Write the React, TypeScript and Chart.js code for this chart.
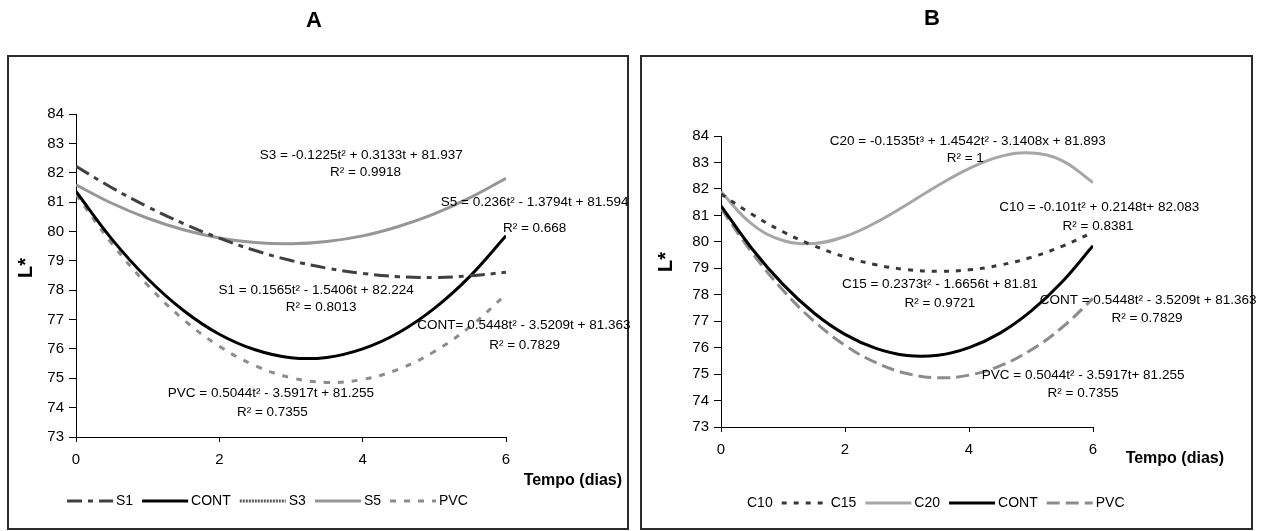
import React, { useEffect, useRef } from "react";
import { Chart, registerables } from "chart.js";

Chart.register(...registerables);

const FONT = '"Liberation Sans", Arial, sans-serif';

// ---- Data ----
const TIME = [0, 0.5, 1, 1.5, 2, 2.5, 3, 3.5, 4, 4.5, 5, 5.5, 6];
const X_TICKS = [0, 2, 4, 6];
const Y_MIN = 73;
const Y_MAX = 84;

const A_S1 = [82.22, 81.49, 80.84, 80.27, 79.77, 79.35, 79.01, 78.75, 78.57, 78.46, 78.43, 78.49, 78.61];
const A_CONT = [81.36, 79.74, 78.39, 77.31, 76.5, 75.97, 75.7, 75.71, 76.0, 76.55, 77.38, 78.48, 79.85];
const A_S3: number[] = [];
const A_S5 = [81.59, 80.96, 80.45, 80.06, 79.78, 79.62, 79.58, 79.66, 79.85, 80.17, 80.6, 81.15, 81.81];
const A_PVC = [81.26, 79.59, 78.17, 77.0, 76.09, 75.43, 75.02, 74.86, 74.96, 75.31, 75.91, 76.76, 77.86];

const B_C10: number[] = [];
const B_C15 = [81.81, 81.04, 80.38, 79.85, 79.43, 79.13, 78.95, 78.89, 78.94, 79.12, 79.41, 79.83, 80.36];
const B_C20 = [81.89, 80.67, 80.05, 79.94, 80.2, 80.73, 81.41, 82.13, 82.77, 83.22, 83.36, 83.07, 82.24];
const B_CONT = [81.36, 79.74, 78.39, 77.31, 76.5, 75.97, 75.7, 75.71, 76.0, 76.55, 77.38, 78.48, 79.85];
const B_PVC = [81.26, 79.59, 78.17, 77.0, 76.09, 75.43, 75.02, 74.86, 74.96, 75.31, 75.91, 76.76, 77.86];

const LABELS_A = ["S1", "CONT", "S3", "S5", "PVC"];
const LABELS_B = ["C10", "C15", "C20", "CONT", "PVC"];

const EQ_A = [
  { text: "S3 = -0.1225t² + 0.3133t + 81.937", x: 3.98, y: 82.6 },
  { text: "R² = 0.9918", x: 4.04, y: 82.02 },
  { text: "S5 = 0.236t² - 1.3794t + 81.594", x: 6.4, y: 81.0 },
  { text: "R² = 0.668", x: 6.4, y: 80.12 },
  { text: "S1 = 0.1565t² - 1.5406t + 82.224", x: 3.35, y: 78.0 },
  { text: "R² = 0.8013", x: 3.42, y: 77.43 },
  { text: "CONT= 0.5448t² - 3.5209t + 81.363", x: 6.25, y: 76.81 },
  { text: "R² = 0.7829", x: 6.26, y: 76.13 },
  { text: "PVC = 0.5044t² - 3.5917t + 81.255", x: 2.72, y: 74.5 },
  { text: "R² = 0.7355", x: 2.74, y: 73.85 },
];

const EQ_B = [
  { text: "C20 = -0.1535t³ + 1.4542t² - 3.1408x + 81.893", x: 3.98, y: 83.81 },
  { text: "R² = 1", x: 3.94, y: 83.17 },
  { text: "C10 = -0.101t² + 0.2148t+ 82.083", x: 6.1, y: 81.32 },
  { text: "R² = 0.8381", x: 6.08, y: 80.6 },
  { text: "C15 = 0.2373t² - 1.6656t + 81.81", x: 3.53, y: 78.4 },
  { text: "R² = 0.9721", x: 3.53, y: 77.69 },
  { text: "CONT = 0.5448t² - 3.5209t + 81.363", x: 6.89, y: 77.8 },
  { text: "R² = 0.7829", x: 6.87, y: 77.12 },
  { text: "PVC = 0.5044t² - 3.5917t+ 81.255", x: 5.84, y: 74.96 },
  { text: "R² = 0.7355", x: 5.84, y: 74.28 },
];

const pts = (vals: number[]) => vals.map((v, i) => ({ x: TIME[i], y: v }));

type Style = { color: string; dash: number[] };

const STYLES_A: Style[] = [
  { color: "#404040", dash: [15, 6, 5, 6] },
  { color: "#000000", dash: [] },
  { color: "#5a5a5a", dash: [2, 1] },
  { color: "#969696", dash: [] },
  { color: "#8c8c8c", dash: [6, 8] },
];
const STYLES_B: Style[] = [
  { color: "rgba(0,0,0,0)", dash: [] },
  { color: "#383838", dash: [5, 7] },
  { color: "#a6a6a6", dash: [] },
  { color: "#000000", dash: [] },
  { color: "#8c8c8c", dash: [13, 6] },
];

type PanelCfg = {
  left: number;
  width: number;
  title: string;
  titleX: number;
  titleY: number;
  frame: [number, number, number, number];
  padding: { left: number; right: number; top: number; bottom: number };
  yTitleX: number;
  yTitleY: number;
  xTitleRight: number;
  xTitleY: number;
  legendX: number;
  legendY: number;
  labels: string[];
  series: number[][];
  styles: Style[];
  eqs: { text: string; x: number; y: number }[];
};

const PANELS: PanelCfg[] = [
  {
    left: 0,
    width: 635,
    title: "A",
    titleX: 314,
    titleY: 21,
    frame: [8, 56, 628, 529],
    padding: { left: 40, right: 129, top: 114, bottom: 64 },
    yTitleX: 26,
    yTitleY: 268,
    xTitleRight: 622,
    xTitleY: 481,
    legendX: 67,
    legendY: 501,
    labels: LABELS_A,
    series: [A_S1, A_CONT, A_S3, A_S5, A_PVC],
    styles: STYLES_A,
    eqs: EQ_A,
  },
  {
    left: 635,
    width: 627,
    title: "B",
    titleX: 297,
    titleY: 19,
    frame: [6, 56, 617, 529],
    padding: { left: 50, right: 169, top: 136, bottom: 74 },
    yTitleX: 31,
    yTitleY: 262,
    xTitleRight: 589,
    xTitleY: 459,
    legendX: 63,
    legendY: 503,
    labels: LABELS_B,
    series: [B_C10, B_C15, B_C20, B_CONT, B_PVC],
    styles: STYLES_B,
    eqs: EQ_B,
  },
];

function makeDecor(cfg: PanelCfg) {
  return {
    id: "decor" + cfg.title,
    afterDraw(chart: any) {
      const ctx: CanvasRenderingContext2D = chart.ctx;
      const xs = chart.scales.x;
      const ys = chart.scales.y;
      ctx.save();
      // frame
      const [x0, y0, x1, y1] = cfg.frame;
      ctx.strokeStyle = "#2b2b2b";
      ctx.lineWidth = 2;
      ctx.strokeRect(x0, y0, x1 - x0, y1 - y0);
      // panel title
      ctx.fillStyle = "#000";
      ctx.font = `bold 22px ${FONT}`;
      ctx.textAlign = "center";
      ctx.textBaseline = "middle";
      ctx.fillText(cfg.title, cfg.titleX, cfg.titleY);
      // y title
      ctx.save();
      ctx.translate(cfg.yTitleX, cfg.yTitleY);
      ctx.rotate(-Math.PI / 2);
      ctx.font = `bold 20px ${FONT}`;
      ctx.fillText("L*", 0, 0);
      ctx.restore();
      // x title
      ctx.font = `bold 16px ${FONT}`;
      ctx.textAlign = "right";
      ctx.fillText("Tempo (dias)", cfg.xTitleRight, cfg.xTitleY);
      // equations
      ctx.font = `13.5px ${FONT}`;
      ctx.textAlign = "center";
      cfg.eqs.forEach((e) => {
        ctx.fillText(e.text, xs.getPixelForValue(e.x), ys.getPixelForValue(e.y));
      });
      // legend
      let lx = cfg.legendX;
      const ly = cfg.legendY;
      ctx.font = `14px ${FONT}`;
      ctx.textAlign = "left";
      chart.data.datasets.forEach((ds: any) => {
        ctx.save();
        ctx.strokeStyle = ds.borderColor;
        ctx.lineWidth = ds.borderWidth;
        ctx.setLineDash(ds.borderDash || []);
        ctx.beginPath();
        ctx.moveTo(lx, ly);
        ctx.lineTo(lx + 46, ly);
        ctx.stroke();
        ctx.restore();
        lx += 49;
        ctx.fillStyle = "#000";
        ctx.fillText(ds.label, lx, ly);
        lx += ctx.measureText(ds.label).width + 9;
      });
      ctx.restore();
    },
  };
}

function Panel({ cfg }: { cfg: PanelCfg }) {
  const ref = useRef<HTMLCanvasElement>(null);
  useEffect(() => {
    const tickFont = { family: FONT, size: 15 };
    const chart = new Chart(ref.current as HTMLCanvasElement, {
      type: "line",
      data: {
        datasets: cfg.labels.map((label, i) => ({
          label,
          data: pts(cfg.series[i]),
          borderColor: cfg.styles[i].color,
          backgroundColor: cfg.styles[i].color,
          borderDash: cfg.styles[i].dash,
          borderWidth: 3,
          pointRadius: 0,
          fill: false,
          tension: 0.4,
        })),
      },
      options: {
        responsive: false,
        animation: false,
        events: [],
        layout: { padding: cfg.padding },
        plugins: {
          legend: { display: false },
          tooltip: { enabled: false },
          title: { display: false },
        },
        scales: {
          x: {
            type: "linear",
            min: 0,
            max: 6,
            afterFit: (s: any) => {
              s.height = 30;
            },
            afterBuildTicks: (s: any) => {
              s.ticks = X_TICKS.map((v) => ({ value: v }));
            },
            grid: { drawOnChartArea: false, drawTicks: true, tickLength: 5, color: "#000" },
            border: { color: "#000", width: 1 },
            ticks: { font: tickFont, color: "#000", padding: 9, maxRotation: 0 },
          },
          y: {
            min: Y_MIN,
            max: Y_MAX,
            afterFit: (s: any) => {
              s.width = 36;
            },
            grid: { drawOnChartArea: false, drawTicks: true, tickLength: 7, color: "#000" },
            border: { color: "#000", width: 1 },
            ticks: { stepSize: 1, font: tickFont, color: "#000", padding: 5 },
          },
        },
      },
      plugins: [makeDecor(cfg)],
    } as any);
    return () => chart.destroy();
  }, []);
  return (
    <div style={{ position: "absolute", left: cfg.left, top: 0, width: cfg.width, height: 531 }}>
      <canvas ref={ref} width={cfg.width} height={531} style={{ width: cfg.width, height: 531, display: "block" }} />
    </div>
  );
}

export default function App() {
  return (
    <div style={{ position: "fixed", left: 0, top: 0, width: 1262, height: 531, background: "#fff", overflow: "hidden" }}>
      {PANELS.map((p) => (
        <Panel key={p.title} cfg={p} />
      ))}
    </div>
  );
}
